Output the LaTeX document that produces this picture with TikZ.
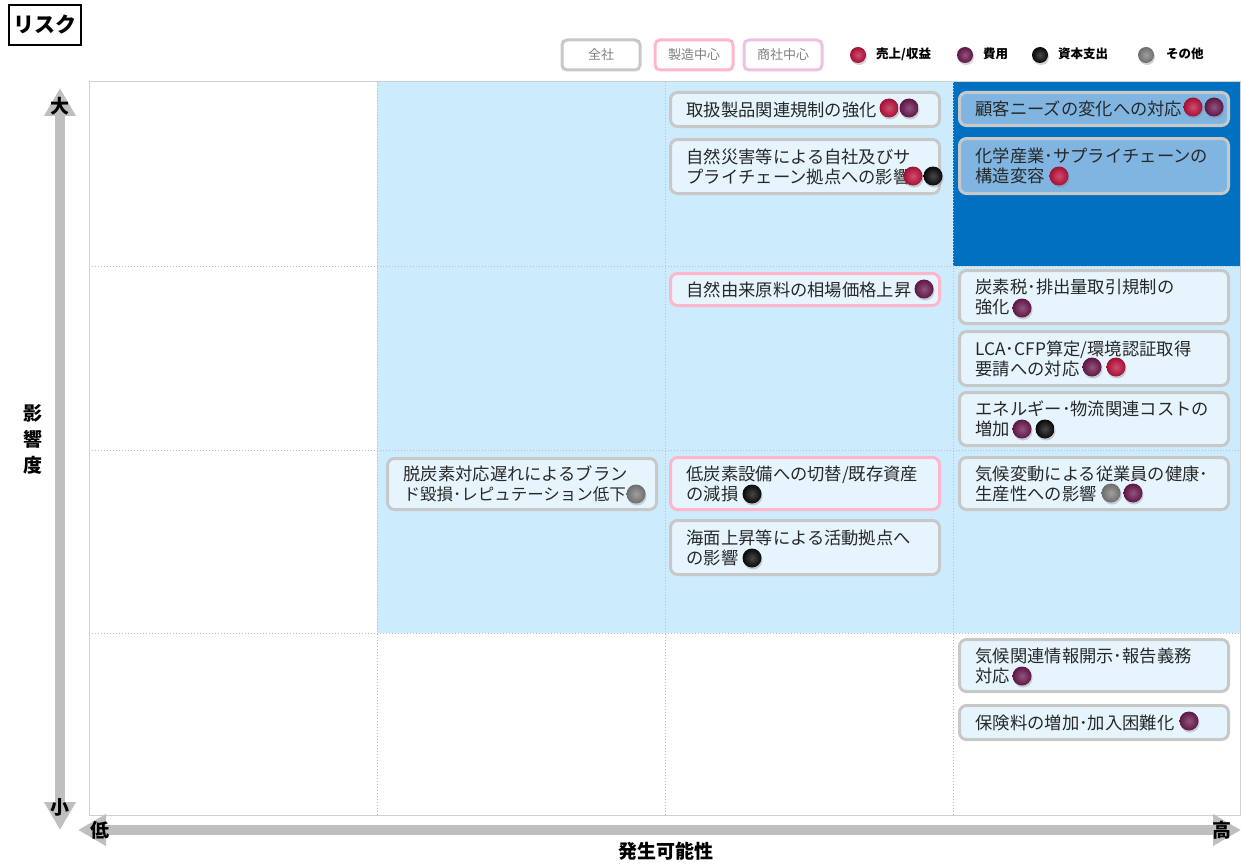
\documentclass[tikz,border=0pt]{standalone}
\usepackage{fontspec}
\newfontfamily\jp{Noto Sans CJK JP}
\usetikzlibrary{arrows.meta,shadows}
\definecolor{lightblue}{RGB}{204,235,252}
\definecolor{darkblue}{RGB}{0,112,192}
\definecolor{boxfill}{RGB}{230,245,253}
\definecolor{darkboxfill}{RGB}{127,181,224}
\definecolor{boxgray}{RGB}{200,200,200}
\definecolor{boxpink}{RGB}{255,182,202}
\definecolor{boxlilac}{RGB}{236,194,224}
\definecolor{gridc}{RGB}{190,190,190}
\definecolor{framec}{RGB}{208,208,208}
\definecolor{axisgray}{RGB}{191,191,191}
\definecolor{textgray}{RGB}{40,40,40}
\definecolor{legtext}{RGB}{128,128,128}
\definecolor{dred}{RGB}{192,18,62}
\definecolor{dpurple}{RGB}{110,26,82}
\definecolor{dblack}{RGB}{10,10,10}
\definecolor{dgray}{RGB}{128,128,128}
\begin{document}
\begin{tikzpicture}[x=1pt,y=-1pt,
  risk/.style={draw=boxgray, line width=3pt, rounded corners=7pt, fill=boxfill,
    text=textgray, font=\jp\fontsize{17.3}{20}\selectfont, align=left,
    anchor=north west, inner xsep=16pt, inner ysep=0pt, text width=237pt},
  riskpink/.style={risk, draw=boxpink},
  riskdark/.style={risk, fill=darkboxfill},
  dot/.style={circle, inner sep=0pt, minimum size=19pt,
    shading=radial, inner color=#1!75!white, outer color=#1!85!black,
    drop shadow={shadow xshift=1pt, shadow yshift=-2pt, opacity=0.35}},
  ldot/.style={dot=#1, minimum size=16pt},
  legbox/.style={draw=#1, line width=3pt, rounded corners=5pt, fill=white,
    minimum width=78pt, minimum height=30pt, text=legtext,
    font=\jp\fontsize{13}{15}\selectfont},
  legtxt/.style={anchor=west, font=\jp\bfseries\fontsize{12.5}{14}\selectfont, inner sep=0pt},
  axlabel/.style={font=\jp\bfseries\fontsize{19}{21}\selectfont, inner sep=0pt},
  axarrow/.style={draw=axisgray, line width=10pt,
    {Triangle[width=30pt,length=28pt]}-{Triangle[width=30pt,length=28pt]}}
]
\useasboundingbox (0,0) rectangle (1241,864);

% background regions
\fill[lightblue] (377,82) rectangle (1240,633);
\fill[darkblue] (953,82) rectangle (1240,266);

% grid
\foreach \gx in {377,665,953}
  \draw[gridc, line width=1pt, dash pattern=on 1pt off 2pt] (\gx,82) -- (\gx,815);
\foreach \gy in {266,450,633}
  \draw[gridc, line width=1pt, dash pattern=on 1pt off 2pt] (89,\gy) -- (1240,\gy);
\draw[framec, line width=1pt] (89,82) rectangle (1240,815);

% title
\node[draw=black, line width=2pt, minimum width=72pt, minimum height=40pt, inner sep=0pt,
  font=\jp\bfseries\fontsize{21}{23}\selectfont] (title) at (45,25) {リスク};

% legend
\node[legbox=boxgray] (lg1) at (601,55) {全社};
\node[legbox=boxpink] (lg2) at (694,55) {製造中心};
\node[legbox=boxlilac] (lg3) at (783,55) {商社中心};
\node[ldot=dred] (ld1) at (858,55) {};
\node[legtxt] (lt1) at (876,54) {売上/収益};
\node[ldot=dpurple] (ld2) at (965,55) {};
\node[legtxt] (lt2) at (983,54) {費用};
\node[ldot=dblack] (ld3) at (1040,55) {};
\node[legtxt] (lt3) at (1058,54) {資本支出};
\node[ldot=dgray] (ld4) at (1146,55) {};
\node[legtxt] (lt4) at (1166,54) {その他};

% axes
\coordinate (vtop) at (60,88);
\coordinate (vbot) at (60,830);
\coordinate (hl) at (78,830);
\coordinate (hr) at (1241,830);
\draw[axarrow] (vbot) -- (vtop);
\draw[axarrow] (hl) -- (hr);
\node[axlabel] (big) at (60,106) {大};
\node[axlabel] (small) at (60,807) {小};
\node[axlabel] (low) at (100,830) {低};
\node[axlabel] (high) at (1222,830) {高};
\node[axlabel] (yl1) at (33,413) {影};
\node[axlabel] (yl2) at (33,439) {響};
\node[axlabel] (yl3) at (33,465) {度};
\node[axlabel] (xl) at (666,851) {発生可能性};

% risk boxes
\node[risk, minimum height=34pt] (b1) at (669,91) {取扱製品関連規制の強化};
\node[risk, minimum height=54pt] (b2) at (669,138) {自然災害等による自社及びサ\\プライチェーン拠点への影響};
\node[riskdark, minimum height=33pt] (b3) at (958,91) {顧客ニーズの変化への対応};
\node[riskdark, minimum height=55pt] (b4) at (958,137) {化学産業･サプライチェーンの\\構造変容};
\node[riskpink, minimum height=32pt] (b5) at (669,272) {自然由来原料の相場価格上昇};
\node[risk, minimum height=53pt] (b6) at (958,269) {炭素税･排出量取引規制の\\強化};
\node[risk, minimum height=54pt] (b7) at (958,330) {LCA･CFP算定/環境認証取得\\要請への対応};
\node[risk, minimum height=53pt] (b8) at (958,391) {エネルギー･物流関連コストの\\増加};
\node[risk, minimum height=51pt] (b9) at (386,457) {脱炭素対応遅れによるブラン\\{\fontsize{16.5}{20}\selectfont ド毀損･レピュテーション低下}};
\node[riskpink, minimum height=52pt] (b10) at (669,456) {低炭素設備への切替/既存資産\\の減損};
\node[risk, minimum height=54pt] (b11) at (669,519) {海面上昇等による活動拠点へ\\の影響};
\node[risk, minimum height=52pt] (b12) at (958,456) {気候変動による従業員の健康･\\生産性への影響};
\node[risk, minimum height=52pt] (b13) at (958,638) {気候関連情報開示･報告義務\\対応};
\node[risk, minimum height=34pt] (b14) at (958,704) {保険料の増加･加入困難化};

% dots
\node[dot=dred] (d1a) at (889,108) {};
\node[dot=dpurple] (d1b) at (909,108) {};
\node[dot=dred] (d2a) at (913,176) {};
\node[dot=dblack] (d2b) at (933,176) {};
\node[dot=dred] (d3a) at (1193,107) {};
\node[dot=dpurple] (d3b) at (1214,107) {};
\node[dot=dred] (d4a) at (1059,176) {};
\node[dot=dpurple] (d5a) at (924,289) {};
\node[dot=dpurple] (d6a) at (1022,308) {};
\node[dot=dpurple] (d7a) at (1092,367) {};
\node[dot=dred] (d7b) at (1116,367) {};
\node[dot=dpurple] (d8a) at (1022,429) {};
\node[dot=dblack] (d8b) at (1045,429) {};
\node[dot=dgray] (d9a) at (636,494) {};
\node[dot=dblack] (d10a) at (752,494) {};
\node[dot=dblack] (d11a) at (752,558) {};
\node[dot=dgray] (d12a) at (1111,493) {};
\node[dot=dpurple] (d12b) at (1133,493) {};
\node[dot=dpurple] (d13a) at (1022,676) {};
\node[dot=dpurple] (d14a) at (1189,721) {};
\end{tikzpicture}
\end{document}
